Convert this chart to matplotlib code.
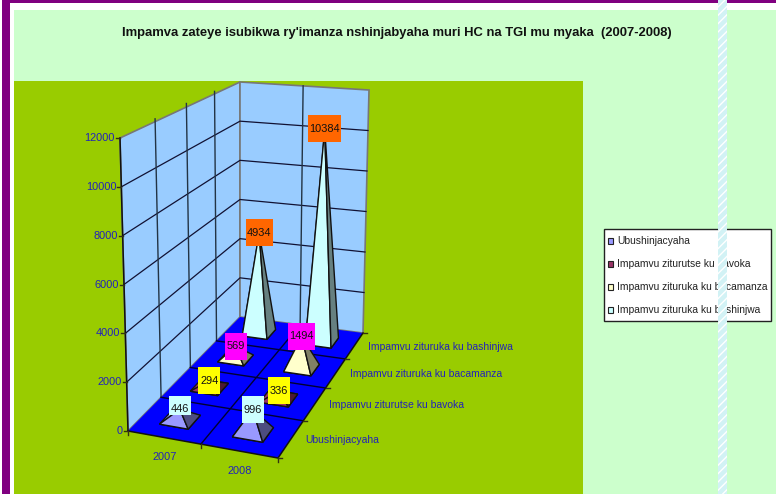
"""Court case postponement causes, drawn as a 3D pyramid chart on a projected floor."""

import matplotlib

matplotlib.use("Agg")
import matplotlib.pyplot as plt
import numpy as np
from matplotlib.patches import Polygon, Rectangle

TITLE = "Impamva zateye isubikwa ry'imanza nshinjabyaha muri HC na TGI mu myaka  (2007-2008)"
YEARS = ["2007", "2008"]
SERIES = [
    "Ubushinjacyaha",
    "Impamvu ziturutse ku bavoka",
    "Impamvu zituruka ku bacamanza",
    "Impamvu zituruka ku bashinjwa",
]
VALUES_2007 = [446, 294, 569, 4934]
VALUES_2008 = [996, 336, 1494, 10384]
Y_TICKS = [0, 2000, 4000, 6000, 8000, 10000, 12000]

SERIES_COLORS = ["#9999FF", "#993366", "#FFFFCC", "#CCFFFF"]
LABEL_COLORS = ["#CCFFFF", "#FFFF00", "#FF00FF", "#FF6600"]
TEXT_BLUE = "#2222BB"
FONT = ["Liberation Sans", "DejaVu Sans"]

# floor corners on screen: front left, front right, back right, back left
FLOOR = np.array([[128, 431], [278, 458], [363, 333], [240, 317]], dtype=float)
# offset of the 12000 level from each floor corner
RISE = np.array([[-8, -293], [-4, -270], [6, -243], [0, -235]], dtype=float)
Y_MAX = 12000
LABEL_WIDTHS = {3: 22, 4: 27, 5: 33}


def homography(corners):
    src = [(0, 0), (1, 0), (1, 1), (0, 1)]
    rows, rhs = [], []
    for (u, v), (x, y) in zip(src, corners):
        rows.append([u, v, 1, 0, 0, 0, -u * x, -v * x])
        rows.append([0, 0, 0, u, v, 1, -u * y, -v * y])
        rhs += [x, y]
    return np.append(np.linalg.solve(np.array(rows), np.array(rhs)), 1).reshape(3, 3)


H = homography(FLOOR)


def project(u, v, value=0):
    """Screen position of a point over floor position (u, v) at height value."""
    px = H @ np.array([u, v, 1.0])
    base = px[:2] / px[2]
    rise = (
        (1 - u) * (1 - v) * RISE[0] + u * (1 - v) * RISE[1] + u * v * RISE[2] + (1 - u) * v * RISE[3]
    )
    return base + rise * value / Y_MAX


def shade(color, factor=0.5):
    rgb = np.array(matplotlib.colors.to_rgb(color))
    return tuple(rgb * factor)


fig = plt.figure(figsize=(7.8, 4.94), dpi=100, facecolor="white")
ax = fig.add_axes([0, 0, 1, 1])
ax.set_xlim(0, 780)
ax.set_ylim(494, 0)
ax.axis("off")

# page frame and backgrounds
ax.add_patch(Rectangle((14, 10), 762, 484, fc="#CCFFCC", ec="none", zorder=0))
ax.add_patch(Rectangle((14, 81), 569, 413, fc="#99CC00", ec="none", zorder=0.5))
ax.add_patch(Rectangle((2, 0), 774, 3.4, fc="#800080", ec="none", zorder=0.6))
ax.add_patch(Rectangle((2, 0), 8, 494, fc="#800080", ec="none", zorder=0.6))
ax.text(396.5, 33, TITLE, ha="center", va="center", fontsize=9.35, fontweight="bold",
        family=["Liberation Sans"], color="#111111", zorder=5)

# walls
wall_edge = "#777777"
ax.add_patch(Polygon([project(0, 0), project(0, 1), project(0, 1, Y_MAX), project(0, 0, Y_MAX)],
                     fc="#99CCFF", ec=wall_edge, lw=1.2, zorder=1))
ax.add_patch(Polygon([project(0, 1), project(1, 1), project(1, 1, Y_MAX), project(0, 1, Y_MAX)],
                     fc="#99CCFF", ec=wall_edge, lw=1.2, zorder=1))
for tick in Y_TICKS[1:-1]:
    points = np.array([project(0, 0, tick), project(0, 1, tick), project(1, 1, tick)])
    ax.plot(points[:, 0], points[:, 1], color="#111133", lw=0.9, zorder=1.2)
for depth in [0.25, 0.5, 0.75]:
    points = np.array([project(0, depth), project(0, depth, Y_MAX)])
    ax.plot(points[:, 0], points[:, 1], color="#223344", lw=1.0, zorder=1.2)
points = np.array([project(0.5, 1), project(0.5, 1, Y_MAX)])
ax.plot(points[:, 0], points[:, 1], color="#223344", lw=1.0, zorder=1.2)

# floor
ax.add_patch(Polygon(FLOOR, fc="#0000FF", ec="none", zorder=1.5))
for depth in [0.25, 0.5, 0.75]:
    points = np.array([project(0, depth), project(1, depth)])
    ax.plot(points[:, 0], points[:, 1], color="#000033", lw=1.0, zorder=1.6)
points = np.array([project(0.5, 0), project(0.5, 1)])
ax.plot(points[:, 0], points[:, 1], color="#000033", lw=1.0, zorder=1.6)

# axes lines and ticks
left_axis = np.array([project(0, 0), project(0, 0, Y_MAX)])
ax.plot(left_axis[:, 0], left_axis[:, 1], color="#111111", lw=1.1, zorder=2)
front_axis = np.array([project(0, 0), project(1, 0), project(1, 1)])
ax.plot(front_axis[:, 0], front_axis[:, 1], color="#111111", lw=1.1, zorder=2)
for tick in Y_TICKS:
    x, y = project(0, 0, tick)
    ax.plot([x - 4, x], [y, y], color="#333311", lw=1.0, zorder=2)
    ax.text(x - 5, y, str(tick), ha="right", va="center", fontsize=7.9, family=FONT,
            color=TEXT_BLUE, zorder=3)
for pos in [0, 0.5, 1]:
    x, y = project(pos, 0)
    ax.plot([x, x], [y, y + 4], color="#333311", lw=1.0, zorder=2)
for depth in [0, 0.25, 0.5, 0.75, 1]:
    x, y = project(1, depth)
    ax.plot([x, x + 4], [y, y], color="#333311", lw=1.0, zorder=2)

for i, year in enumerate(YEARS):
    x, y = project(0.25 + 0.5 * i, 0)
    ax.text(x + 1, y + 20, year, ha="center", va="center", fontsize=7.9, family=FONT,
            color=TEXT_BLUE, zorder=3)
for i, name in enumerate(SERIES):
    x, y = project(1, 0.125 + 0.25 * i)
    ax.text(x + 14, y + 1, name, ha="left", va="center", fontsize=7.5, family=FONT,
            color=TEXT_BLUE, zorder=3)

# pyramids, back row first so nearer ones cover them
half_u = 0.1
half_v = 0.05
for s in range(len(SERIES) - 1, -1, -1):
    for c, values in enumerate([VALUES_2007, VALUES_2008]):
        u = 0.25 + 0.5 * c
        v = 0.125 + 0.25 * s
        value = values[s]
        fl = project(u - half_u, v - half_v)
        fr = project(u + half_u, v - half_v)
        br = project(u + half_u, v + half_v)
        bl = project(u - half_u, v + half_v)
        apex = project(u, v, value)
        z = 3 + (len(SERIES) - s) * 0.1
        color = SERIES_COLORS[s]
        ax.add_patch(Polygon([fl, fr, br, bl], fc=shade(color, 0.6), ec="#111111", lw=1.0, zorder=z))
        ax.add_patch(Polygon([bl, fl, apex], fc=color, ec="#111111", lw=0.8, zorder=z))
        ax.add_patch(Polygon([fl, fr, apex], fc=color, ec="#111111", lw=1.0, zorder=z))
        ax.add_patch(Polygon([fr, br, apex], fc=shade(color), ec="#111111", lw=1.0, zorder=z))

# data labels sit on the apex of each pyramid
for s in range(len(SERIES)):
    for c, values in enumerate([VALUES_2007, VALUES_2008]):
        x, y = project(0.25 + 0.5 * c, 0.125 + 0.25 * s, values[s])
        text = str(values[s])
        width = LABEL_WIDTHS[len(text)]
        # the first label is cut short by its pyramid in the original
        height = 19 if (s, c) == (0, 0) else 27
        ax.add_patch(Rectangle((x - width / 2, y - 13.5), width, height,
                               fc=LABEL_COLORS[s], ec="none", zorder=4))
        ax.text(x, y, text, ha="center", va="center", fontsize=7.9, family=FONT,
                color="#111111", zorder=4.1)

# legend
ax.add_patch(Rectangle((603.5, 228.5), 167, 92, fc="white", ec="#222222", lw=1.0, zorder=4))
for i, name in enumerate(SERIES):
    y = 240.5 + 23 * i
    ax.add_patch(Rectangle((608, y - 3), 5, 6, fc=SERIES_COLORS[i], ec="#222222", lw=0.8, zorder=4.1))
    ax.text(617, y, name, ha="left", va="center", fontsize=7.4, family=FONT, color="#222222", zorder=4.1)

# pale hatched strip crossing the page
ax.add_patch(Rectangle((718, 0), 9, 494, fc="#D2F2F5", ec="white", lw=0, hatch="////", zorder=6))

fig.savefig("out.png", dpi=100)
plt.close(fig)
